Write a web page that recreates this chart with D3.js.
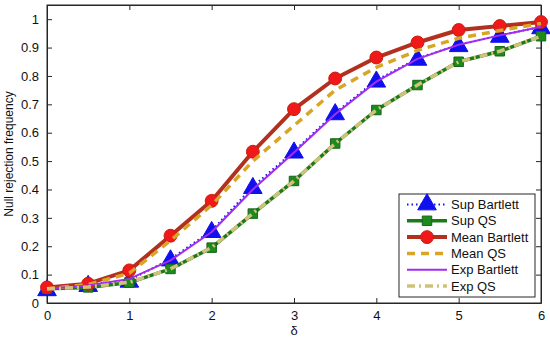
<!DOCTYPE html>
<html>
<head>
<meta charset="utf-8">
<script src="https://cdn.jsdelivr.net/npm/d3@7"></script>
<style>
  body { margin: 0; background: #fff; }
  svg { display: block; font-family: "Liberation Sans", Arial, sans-serif; }
</style>
</head>
<body>
<svg id="chart" width="550" height="339"></svg>
<script>
const deltas = [0, 0.5, 1, 1.5, 2, 2.5, 3, 3.5, 4, 4.5, 5, 5.5, 6];
const supBartlett  = [0.05, 0.065, 0.08, 0.155, 0.255, 0.41, 0.535, 0.67, 0.785, 0.862, 0.91, 0.943, 0.973];
const supQS        = [0.05, 0.055, 0.072, 0.12, 0.195, 0.315, 0.43, 0.562, 0.68, 0.768, 0.85, 0.887, 0.94];
const meanBartlett = [0.055, 0.068, 0.115, 0.237, 0.36, 0.533, 0.683, 0.791, 0.865, 0.918, 0.962, 0.976, 0.99];
const meanQS       = [0.05, 0.065, 0.105, 0.22, 0.345, 0.5, 0.625, 0.75, 0.83, 0.89, 0.933, 0.96, 0.985];
const expBartlett  = [0.05, 0.062, 0.085, 0.15, 0.25, 0.4, 0.53, 0.665, 0.78, 0.86, 0.91, 0.943, 0.973];
const expQS        = [0.05, 0.056, 0.073, 0.12, 0.196, 0.316, 0.43, 0.562, 0.68, 0.768, 0.85, 0.887, 0.94];
const seriesNames  = ["Sup Bartlett", "Sup QS", "Mean Bartlett", "Mean QS", "Exp Bartlett", "Exp QS"];
const xTicks = [0, 1, 2, 3, 4, 5, 6];
const yTicks = [0, 0.1, 0.2, 0.3, 0.4, 0.5, 0.6, 0.7, 0.8, 0.9, 1];
const xLabel = "δ";
const yLabel = "Null rejection frequency";

const L = 47, R = 541, T = 5, B = 303;
const svg = d3.select("#chart");
const x = d3.scaleLinear().domain([0, 6]).range([L, R]);
const y = d3.scaleLinear().domain([0, 1.05]).range([B, T]);

const styles = [
  {vals: supBartlett, color: "#1414e6", width: 2, dash: "1.5,3", marker: "triangle", mfill: "#1010ee", mstroke: "#1010ee", msize: 150},
  {vals: supQS, color: "#1c7a1c", width: 3.5, dash: null, marker: "square", mfill: "#1e8a1e", mstroke: "#16661a", msize: 90},
  {vals: meanBartlett, color: "#b3301e", width: 4, dash: null, marker: "circle", mfill: "#f01818", mstroke: "#c42010", msize: 130},
  {vals: meanQS, color: "#d8a526", width: 3.5, dash: "8,6", marker: null},
  {vals: expBartlett, color: "#a22cf0", width: 2, dash: null, marker: null},
  {vals: expQS, color: "#cfc27a", width: 3.5, dash: "8,4,2,4", marker: null}
];

// axes box
const ax = svg.append("g");
const axisColor = "#262626";
ax.append("rect").attr("x", L).attr("y", T).attr("width", R - L).attr("height", B - T)
  .attr("fill", "none").attr("stroke", axisColor).attr("stroke-width", 1);

// bottom axis (ticks inward)
const xAxis = d3.axisBottom(x).tickValues(xTicks).tickFormat(d3.format("d")).tickSizeInner(-5).tickSizeOuter(0).tickPadding(8);
const gx = svg.append("g").attr("transform", `translate(0,${B})`).call(xAxis);
const gxTop = svg.append("g").attr("transform", `translate(0,${T})`)
  .call(d3.axisTop(x).tickValues(xTicks).tickSizeInner(-5).tickSizeOuter(0).tickFormat(""));
const yAxis = d3.axisLeft(y).tickValues(yTicks).tickFormat(d => d === 0 ? "0" : d === 1 ? "1" : d3.format(".1f")(d)).tickSizeInner(-5).tickSizeOuter(0).tickPadding(8);
const gy = svg.append("g").attr("transform", `translate(${L},0)`).call(yAxis);
const gyR = svg.append("g").attr("transform", `translate(${R},0)`)
  .call(d3.axisRight(y).tickValues(yTicks).tickSizeInner(-5).tickSizeOuter(0).tickFormat(""));
[gx, gxTop, gy, gyR].forEach(g => {
  g.select(".domain").attr("stroke", axisColor);
  g.selectAll(".tick line").attr("stroke", axisColor);
  g.selectAll("text").attr("fill", "#111").style("font-size", "13px").style("font-family", "Liberation Sans, Arial, sans-serif");
});

// labels
svg.append("text").attr("x", x(3)).attr("y", 335).attr("text-anchor", "middle")
  .style("font-size", "13px").attr("fill", "#111").text(xLabel);
svg.append("text").attr("transform", `translate(13,${(T + B) / 2}) rotate(-90)`).attr("text-anchor", "middle")
  .style("font-size", "12px").attr("fill", "#111").text(yLabel);

// series
const line = d3.line().x((d, i) => x(deltas[i])).y(d => y(d));
const symbolType = {triangle: d3.symbolTriangle, square: d3.symbolSquare, circle: d3.symbolCircle};
const plot = svg.append("g");
styles.forEach(s => {
  const p = plot.append("path").datum(s.vals).attr("d", line).attr("fill", "none")
    .attr("stroke", s.color).attr("stroke-width", s.width).attr("stroke-linejoin", "round");
  if (s.dash) p.attr("stroke-dasharray", s.dash);
  if (s.marker) {
    plot.selectAll(null).data(s.vals).enter().append("path")
      .attr("d", d3.symbol().type(symbolType[s.marker]).size(s.msize))
      .attr("transform", (d, i) => `translate(${x(deltas[i])},${y(d) + (s.marker === "triangle" ? 1.5 : 0)})`)
      .attr("fill", s.mfill).attr("stroke", s.mstroke).attr("stroke-width", 1);
  }
});

// legend
const lg = svg.append("g");
const lx = 399, ly = 194, lw = 136, lh = 103;
lg.append("rect").attr("x", lx).attr("y", ly).attr("width", lw).attr("height", lh)
  .attr("fill", "#fff").attr("stroke", axisColor).attr("stroke-width", 1);
seriesNames.forEach((name, i) => {
  const s = styles[i];
  const cy = 204.5 + i * 16.3;
  const l = lg.append("line").attr("x1", 407).attr("x2", 447).attr("y1", cy).attr("y2", cy)
    .attr("stroke", s.color).attr("stroke-width", s.width);
  if (s.dash) l.attr("stroke-dasharray", s.dash);
  if (s.marker) {
    lg.append("path").attr("d", d3.symbol().type(symbolType[s.marker]).size(s.msize))
      .attr("transform", `translate(427,${cy + (s.marker === "triangle" ? 0 : 0)})`)
      .attr("fill", s.mfill).attr("stroke", s.mstroke).attr("stroke-width", 1);
  }
  lg.append("text").attr("x", 451).attr("y", cy + 4.5).style("font-size", "13px").attr("fill", "#111").text(name);
});
</script>
</body>
</html>
